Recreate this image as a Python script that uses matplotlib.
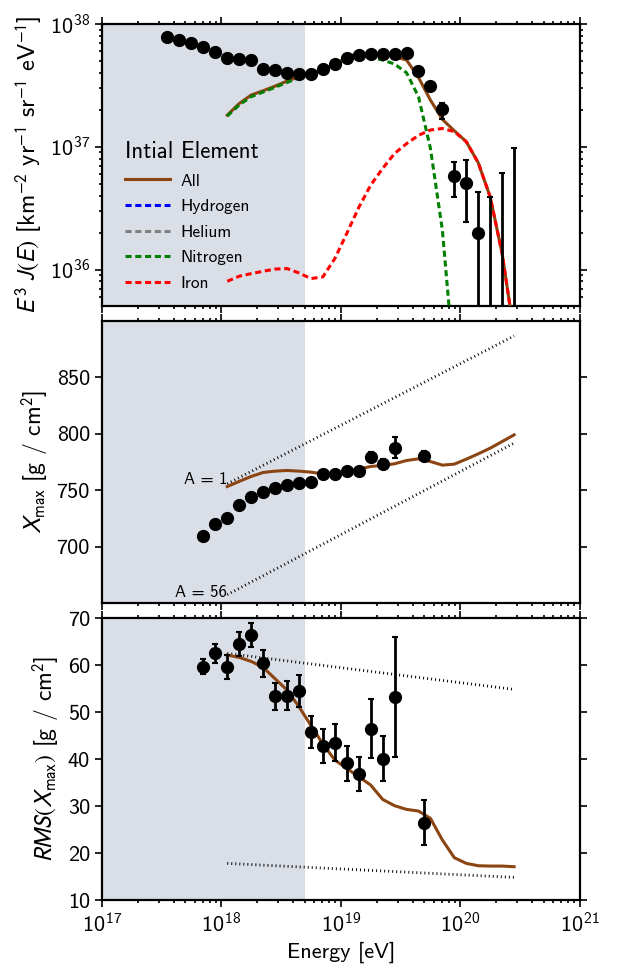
"""
Flux, Xmax and RMS(Xmax) versus energy, three stacked panels.
"""

import numpy as np
import matplotlib
matplotlib.use("Agg")
import matplotlib.pyplot as plt
from matplotlib.lines import Line2D

plt.rcParams["font.family"] = ["cmss10", "DejaVu Sans"]
plt.rcParams["mathtext.fontset"] = "stixsans"
plt.rcParams["axes.unicode_minus"] = False
plt.rcParams["font.size"] = 16

BROWN = "#8b4513"
SHADE = "#d9dee7"

# ------------------------------------------------------------
# Data (log10 of energy in eV)
# ------------------------------------------------------------
log_e_flux = [17.55, 17.65, 17.75, 17.85, 17.95, 18.05, 18.15, 18.25, 18.35, 18.45,
              18.55, 18.65, 18.75, 18.85, 18.95, 19.05, 19.15, 19.25, 19.35, 19.45,
              19.55, 19.65, 19.75, 19.85, 19.95, 20.05, 20.15, 20.25, 20.35, 20.45]
flux = [7.79e37, 7.36e37, 6.95e37, 6.53e37, 5.95e37, 5.25e37, 5.19e37, 5.06e37, 4.30e37, 4.25e37,
        4.01e37, 3.91e37, 3.91e37, 4.30e37, 4.75e37, 5.25e37, 5.58e37, 5.69e37, 5.69e37, 5.72e37,
        5.77e37, 4.17e37, 3.12e37, 2.02e37, 5.81e36, 5.09e36, 2.00e36, 2.0e35, 2.0e35, 2.0e35]
flux_err_lo = [0.8e36, 0.7e36, 0.6e36, 0.6e36, 0.5e36, 0.5e36, 0.5e36, 0.5e36, 0.4e36, 0.4e36,
               0.4e36, 0.4e36, 0.4e36, 0.5e36, 0.5e36, 0.6e36, 0.7e36, 0.8e36, 0.9e36, 1.1e36,
               1.4e36, 1.6e36, 1.9e36, 3.2e36, 1.91e36, 2.67e36, 1.99e36, 1.99e35, 1.99e35, 1.99e35]
flux_err_hi = [0.8e36, 0.7e36, 0.6e36, 0.6e36, 0.5e36, 0.5e36, 0.5e36, 0.5e36, 0.4e36, 0.4e36,
               0.4e36, 0.4e36, 0.4e36, 0.5e36, 0.5e36, 0.6e36, 0.7e36, 0.8e36, 0.9e36, 1.1e36,
               1.4e36, 1.6e36, 1.9e36, 2.7e36, 1.74e36, 2.65e36, 2.25e36, 3.7e36, 5.87e36, 9.5e36]

log_e_model = [18.05, 18.15, 18.25, 18.35, 18.45, 18.55, 18.65, 18.75, 18.85, 18.95,
               19.05, 19.15, 19.25, 19.35, 19.45, 19.55, 19.65, 19.75, 19.85, 19.95,
               20.05, 20.15, 20.25, 20.35, 20.45]
flux_all = [1.81e37, 2.25e37, 2.64e37, 2.86e37, 3.12e37, 3.43e37, 3.72e37, 3.96e37, 4.27e37, 4.69e37,
            5.35e37, 5.84e37, 5.69e37, 5.69e37, 5.42e37, 5.09e37, 3.67e37, 2.40e37, 1.67e37, 1.35e37,
            1.10e37, 7.41e36, 3.91e36, 1.35e36, 3.0e35]
flux_nitrogen = [1.78e37, 2.19e37, 2.56e37, 2.79e37, 3.05e37, 3.34e37, 3.65e37, 3.91e37, 4.22e37, 4.60e37,
                 5.25e37, 5.58e37, 5.35e37, 5.09e37, 4.72e37, 4.01e37, 2.56e37, 9.7e36, 2.09e36, 1.6e35]
flux_iron = [8.03e35, 8.83e35, 9.27e35, 9.69e35, 1.01e36, 1.02e36, 9.39e35, 8.45e35, 8.72e35, 1.23e36,
             1.97e36, 3.20e36, 4.87e36, 6.66e36, 8.83e36, 1.06e37, 1.24e37, 1.37e37, 1.41e37, 1.33e37,
             1.10e37, 7.41e36, 3.91e36, 1.35e36, 3.0e35]

log_e_xmax = [17.85, 17.95, 18.05, 18.15, 18.25, 18.35, 18.45, 18.55, 18.65, 18.75,
              18.85, 18.95, 19.05, 19.15, 19.25, 19.35, 19.45, 19.70]
xmax = [709.7, 719.7, 725.1, 736.8, 744.2, 748.0, 752.2, 754.5, 756.3, 757.5,
        764.0, 764.5, 766.6, 766.9, 779.6, 773.4, 787.8, 780.5]
xmax_err = [2.0, 2.0, 2.0, 2.0, 2.0, 2.0, 2.0, 2.0, 2.0, 2.0,
            2.5, 2.5, 2.5, 3.0, 4.0, 4.0, 9.5, 4.0]
xmax_all = [753.3, 757.8, 762.2, 765.7, 766.9, 767.5, 766.9, 766.0, 764.5, 765.1,
            766.6, 768.7, 771.0, 771.9, 773.4, 776.3, 777.8, 775.4, 772.2, 773.1,
            777.5, 782.2, 787.2, 793.1, 799.0]

rms = [59.65, 62.48, 59.50, 64.40, 66.45, 60.35, 53.33, 53.48, 54.54, 45.74,
       42.84, 43.48, 39.08, 36.81, 46.45, 40.07, 53.19, 26.45]
rms_err = [1.65, 2.1, 2.55, 2.55, 2.55, 2.85, 2.9, 3.05, 3.45, 3.4,
           3.6, 3.9, 3.8, 3.6, 6.3, 4.8, 12.7, 4.75]
rms_all = [62.13, 61.63, 60.78, 59.50, 57.09, 54.68, 51.13, 47.16, 43.19, 39.79,
           38.01, 36.24, 34.47, 31.42, 30.07, 29.29, 28.94, 27.38, 22.77, 19.01,
           17.80, 17.30, 17.23, 17.23, 17.09]

# pure proton / pure iron reference lines
log_e_ref = [18.05, 20.45]
xmax_proton = [755.7, 886.5]
xmax_iron = [657.6, 791.7]
rms_proton = [62.48, 54.82]
rms_iron = [17.80, 14.82]

shade_range = (1e17, 5e18)


def energy(log_list):
    return 10.0 ** np.array(log_list)


def style_axis(ax):
    ax.set_xscale("log")
    ax.set_xlim(1e17, 1e21)
    ax.axvspan(*shade_range, color=SHADE, lw=0, zorder=0)
    ax.tick_params(which="both", direction="out", top=True, right=True, width=1.2)
    ax.tick_params(which="major", length=5)
    ax.tick_params(which="minor", length=2.5)
    for s in ax.spines.values():
        s.set_linewidth(1.6)


def draw_points(ax, x, y, err):
    ax.errorbar(x, y, yerr=err, fmt="o", color="black", ms=8.5,
                elinewidth=2, capsize=2.5, capthick=1.5, zorder=5)


fig = plt.figure(figsize=(6.4, 9.68), dpi=100)
ax1 = fig.add_axes([0.159, 0.6844, 0.747, 0.2908])
ax2 = fig.add_axes([0.159, 0.3768, 0.747, 0.2919], sharex=ax1)
ax3 = fig.add_axes([0.159, 0.0702, 0.747, 0.2913], sharex=ax1)

dash = dict(lw=2.2, dashes=(2.0, 1.2))
dots = dict(color="black", lw=2.0, ls=(0, (0.35, 1.1)))

# ------------------------------------------------------------
# Flux panel
# ------------------------------------------------------------
style_axis(ax1)
ax1.set_yscale("log")
ax1.set_ylim(5.1e35, 1e38)
draw_points(ax1, energy(log_e_flux), flux, [flux_err_lo, flux_err_hi])
ax1.plot(energy(log_e_model), flux_all, color=BROWN, lw=2.2, zorder=3)
ax1.plot(energy(log_e_model[:len(flux_nitrogen)]), flux_nitrogen, color="green", zorder=4, **dash)
ax1.plot(energy(log_e_model), flux_iron, color="red", zorder=4, **dash)
ax1.set_ylabel(r"$E^3\ J(E)$ [km$^{-2}$ yr$^{-1}$ sr$^{-1}$ eV$^{-1}$]", fontsize=17.5)

handles = [
    Line2D([], [], color=BROWN, lw=2.2),
    Line2D([], [], color="blue", **dash),
    Line2D([], [], color="gray", **dash),
    Line2D([], [], color="green", **dash),
    Line2D([], [], color="red", **dash),
]
names = ["All", "Hydrogen", "Helium", "Nitrogen", "Iron"]
leg = ax1.legend(handles, names, title="Intial Element", loc="upper left",
                 bbox_to_anchor=(0.015, 0.64), frameon=False, fontsize=12.5,
                 title_fontsize=16.5, alignment="left", handlelength=2.6,
                 labelspacing=0.6, handletextpad=0.6)
plt.setp(ax1.get_xticklabels(), visible=False)

# ------------------------------------------------------------
# Xmax panel
# ------------------------------------------------------------
style_axis(ax2)
ax2.set_ylim(650, 900)
ax2.set_yticks([700, 750, 800, 850])
draw_points(ax2, energy(log_e_xmax), xmax, xmax_err)
ax2.plot(energy(log_e_model), xmax_all, color=BROWN, lw=2.2, zorder=3)
ax2.plot(energy(log_e_ref), xmax_proton, **dots)
ax2.plot(energy(log_e_ref), xmax_iron, **dots)
ax2.text(10 ** log_e_ref[0], xmax_proton[0] + 4, "A = 1", ha="right", va="center", fontsize=12)
ax2.text(10 ** log_e_ref[0], xmax_iron[0] + 2, "A = 56", ha="right", va="center", fontsize=12)
ax2.set_ylabel(r"$X_{\rm max}$ [g / cm$^2$]", fontsize=17)
plt.setp(ax2.get_xticklabels(), visible=False)

# ------------------------------------------------------------
# RMS panel
# ------------------------------------------------------------
style_axis(ax3)
ax3.set_ylim(10, 70)
ax3.set_yticks([10, 20, 30, 40, 50, 60, 70])
draw_points(ax3, energy(log_e_xmax), rms, rms_err)
ax3.plot(energy(log_e_model), rms_all, color=BROWN, lw=2.2, zorder=3)
ax3.plot(energy(log_e_ref), rms_proton, **dots)
ax3.plot(energy(log_e_ref), rms_iron, **dots)
ax3.set_ylabel(r"$RMS(X_{\rm max})$ [g / cm$^2$]", fontsize=17)
ax3.set_xlabel("Energy [eV]")

fig.savefig("out.png", dpi=100)
